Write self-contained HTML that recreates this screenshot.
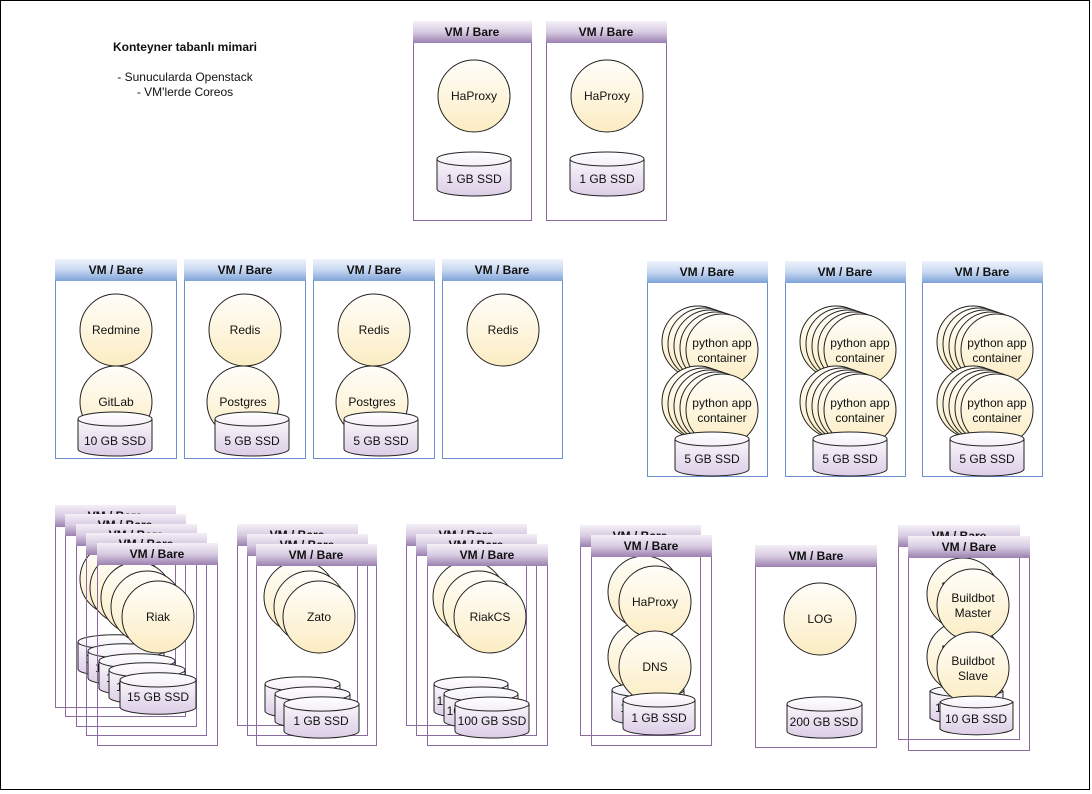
<!DOCTYPE html>
<html><head><meta charset="utf-8"><style>
body{margin:0;background:#fff}
svg{display:block}
text{font-family:"Liberation Sans",Arial,sans-serif;font-size:12px;fill:#111;text-anchor:middle}
.h{font-weight:bold}
.bp{fill:none;stroke:#8a6aa0;stroke-width:1}
.bb{fill:none;stroke:#6a8fca;stroke-width:1}
.c{fill:url(#cg);stroke:#222;stroke-width:1}
.cy{fill:url(#yg);stroke:#222;stroke-width:1}
.ln{fill:none;stroke:#222;stroke-width:1}
</style></head><body>
<svg width="1092" height="794" xmlns="http://www.w3.org/2000/svg">
<defs>
<linearGradient id="pg" x1="0" y1="0" x2="0" y2="1"><stop offset="0" stop-color="#f4f0f7"/><stop offset="0.5" stop-color="#d8cbe2"/><stop offset="1" stop-color="#9b80b0"/></linearGradient>
<linearGradient id="bg" x1="0" y1="0" x2="0" y2="1"><stop offset="0" stop-color="#eef3fb"/><stop offset="0.5" stop-color="#c7d8f1"/><stop offset="1" stop-color="#7ea3d8"/></linearGradient>
<linearGradient id="cg" x1="0" y1="0" x2="0" y2="1"><stop offset="0" stop-color="#fffefa"/><stop offset="1" stop-color="#fbecc2"/></linearGradient>
<linearGradient id="yg" x1="0" y1="0" x2="0" y2="1"><stop offset="0" stop-color="#ffffff"/><stop offset="1" stop-color="#dccde6"/></linearGradient>
</defs>
<rect x="0.5" y="0.5" width="1089" height="789" fill="#fff" stroke="#000"/>

<text class="h" x="185" y="51">Konteyner tabanlı mimari</text>
<text x="185" y="81">- Sunucularda Openstack</text>
<text x="185" y="96">- VM'lerde Coreos</text>

<!-- top boxes -->
<g transform="translate(413,21)"><rect class="bp" x="0.5" y="0.5" width="118" height="199"/><rect x="0" y="0" width="119" height="22" fill="url(#pg)"/><text class="h" x="59" y="15">VM / Bare</text>
<circle class="c" cx="61" cy="75" r="36"/><text x="61" y="79">HaProxy</text>
<g transform="translate(24,131)"><path class="cy" d="M0,7A37,7 0 0 1 74,7V37A37,7 0 0 1 0,37Z"/><path class="ln" d="M0,7A37,7 0 0 0 74,7"/><text x="37" y="31">1 GB SSD</text></g></g>
<g transform="translate(546,21)"><rect class="bp" x="0.5" y="0.5" width="120" height="199"/><rect x="0" y="0" width="121" height="22" fill="url(#pg)"/><text class="h" x="60" y="15">VM / Bare</text>
<circle class="c" cx="61" cy="75" r="36"/><text x="61" y="79">HaProxy</text>
<g transform="translate(24,131)"><path class="cy" d="M0,7A37,7 0 0 1 74,7V37A37,7 0 0 1 0,37Z"/><path class="ln" d="M0,7A37,7 0 0 0 74,7"/><text x="37" y="31">1 GB SSD</text></g></g>

<!-- row2 blue -->
<g transform="translate(55,259)"><rect class="bb" x="0.5" y="0.5" width="121" height="199"/><rect x="0" y="0" width="122" height="22" fill="url(#bg)"/><text class="h" x="61" y="15">VM / Bare</text>
<circle class="c" cx="61" cy="71" r="36"/><text x="61" y="75">Redmine</text>
<circle class="c" cx="61" cy="143" r="36"/><text x="61" y="147">GitLab</text>
<g transform="translate(23,153)"><path class="cy" d="M0,7A37,7 0 0 1 74,7V37A37,7 0 0 1 0,37Z"/><path class="ln" d="M0,7A37,7 0 0 0 74,7"/><text x="37" y="33">10 GB SSD</text></g></g>
<g transform="translate(184,259)"><rect class="bb" x="0.5" y="0.5" width="121" height="199"/><rect x="0" y="0" width="122" height="22" fill="url(#bg)"/><text class="h" x="61" y="15">VM / Bare</text>
<circle class="c" cx="61" cy="71" r="36"/><text x="61" y="75">Redis</text>
<circle class="c" cx="59" cy="143" r="36"/><text x="59" y="147">Postgres</text>
<g transform="translate(31,153)"><path class="cy" d="M0,7A37,7 0 0 1 74,7V37A37,7 0 0 1 0,37Z"/><path class="ln" d="M0,7A37,7 0 0 0 74,7"/><text x="37" y="33">5 GB SSD</text></g></g>
<g transform="translate(313,259)"><rect class="bb" x="0.5" y="0.5" width="121" height="199"/><rect x="0" y="0" width="122" height="22" fill="url(#bg)"/><text class="h" x="61" y="15">VM / Bare</text>
<circle class="c" cx="61" cy="71" r="36"/><text x="61" y="75">Redis</text>
<circle class="c" cx="59" cy="143" r="36"/><text x="59" y="147">Postgres</text>
<g transform="translate(31,153)"><path class="cy" d="M0,7A37,7 0 0 1 74,7V37A37,7 0 0 1 0,37Z"/><path class="ln" d="M0,7A37,7 0 0 0 74,7"/><text x="37" y="33">5 GB SSD</text></g></g>
<g transform="translate(442,259)"><rect class="bb" x="0.5" y="0.5" width="120" height="199"/><rect x="0" y="0" width="121" height="22" fill="url(#bg)"/><text class="h" x="60" y="15">VM / Bare</text>
<circle class="c" cx="61" cy="71" r="36"/><text x="61" y="75">Redis</text></g>

<!-- python boxes -->
<g transform="translate(647,261)"><rect class="bb" x="0.5" y="0.5" width="120" height="215"/><rect x="0" y="0" width="121" height="22" fill="url(#bg)"/><text class="h" x="60" y="15">VM / Bare</text>
<circle class="c" cx="51" cy="81" r="36"/><text x="51" y="78">python app</text>
<circle class="c" cx="57" cy="83" r="36"/><text x="57" y="80">python app</text>
<circle class="c" cx="63" cy="85" r="36"/><text x="63" y="82">python app</text>
<circle class="c" cx="69" cy="87" r="36"/><text x="69" y="84">python app</text>
<circle class="c" cx="75" cy="89" r="36"/><text x="75" y="86">python app</text><text x="75" y="101">container</text>
<circle class="c" cx="51" cy="141" r="36"/><text x="51" y="138">python app</text>
<circle class="c" cx="57" cy="143" r="36"/><text x="57" y="140">python app</text>
<circle class="c" cx="63" cy="145" r="36"/><text x="63" y="142">python app</text>
<circle class="c" cx="69" cy="147" r="36"/><text x="69" y="144">python app</text>
<circle class="c" cx="75" cy="149" r="36"/><text x="75" y="146">python app</text><text x="75" y="161">container</text>
<g transform="translate(28,171)"><path class="cy" d="M0,7A37,7 0 0 1 74,7V37A37,7 0 0 1 0,37Z"/><path class="ln" d="M0,7A37,7 0 0 0 74,7"/><text x="37" y="31">5 GB SSD</text></g></g>
<g transform="translate(785,261)"><rect class="bb" x="0.5" y="0.5" width="120" height="215"/><rect x="0" y="0" width="121" height="22" fill="url(#bg)"/><text class="h" x="60" y="15">VM / Bare</text>
<circle class="c" cx="51" cy="81" r="36"/><text x="51" y="78">python app</text>
<circle class="c" cx="57" cy="83" r="36"/><text x="57" y="80">python app</text>
<circle class="c" cx="63" cy="85" r="36"/><text x="63" y="82">python app</text>
<circle class="c" cx="69" cy="87" r="36"/><text x="69" y="84">python app</text>
<circle class="c" cx="75" cy="89" r="36"/><text x="75" y="86">python app</text><text x="75" y="101">container</text>
<circle class="c" cx="51" cy="141" r="36"/><text x="51" y="138">python app</text>
<circle class="c" cx="57" cy="143" r="36"/><text x="57" y="140">python app</text>
<circle class="c" cx="63" cy="145" r="36"/><text x="63" y="142">python app</text>
<circle class="c" cx="69" cy="147" r="36"/><text x="69" y="144">python app</text>
<circle class="c" cx="75" cy="149" r="36"/><text x="75" y="146">python app</text><text x="75" y="161">container</text>
<g transform="translate(28,171)"><path class="cy" d="M0,7A37,7 0 0 1 74,7V37A37,7 0 0 1 0,37Z"/><path class="ln" d="M0,7A37,7 0 0 0 74,7"/><text x="37" y="31">5 GB SSD</text></g></g>
<g transform="translate(922,261)"><rect class="bb" x="0.5" y="0.5" width="120" height="215"/><rect x="0" y="0" width="121" height="22" fill="url(#bg)"/><text class="h" x="60" y="15">VM / Bare</text>
<circle class="c" cx="51" cy="81" r="36"/><text x="51" y="78">python app</text>
<circle class="c" cx="57" cy="83" r="36"/><text x="57" y="80">python app</text>
<circle class="c" cx="63" cy="85" r="36"/><text x="63" y="82">python app</text>
<circle class="c" cx="69" cy="87" r="36"/><text x="69" y="84">python app</text>
<circle class="c" cx="75" cy="89" r="36"/><text x="75" y="86">python app</text><text x="75" y="101">container</text>
<circle class="c" cx="51" cy="141" r="36"/><text x="51" y="138">python app</text>
<circle class="c" cx="57" cy="143" r="36"/><text x="57" y="140">python app</text>
<circle class="c" cx="63" cy="145" r="36"/><text x="63" y="142">python app</text>
<circle class="c" cx="69" cy="147" r="36"/><text x="69" y="144">python app</text>
<circle class="c" cx="75" cy="149" r="36"/><text x="75" y="146">python app</text><text x="75" y="161">container</text>
<g transform="translate(28,171)"><path class="cy" d="M0,7A37,7 0 0 1 74,7V37A37,7 0 0 1 0,37Z"/><path class="ln" d="M0,7A37,7 0 0 0 74,7"/><text x="37" y="31">5 GB SSD</text></g></g>

<!-- Riak x5 -->
<g transform="translate(55,505)"><rect class="bp" x="0.5" y="0.5" width="120" height="202"/><rect x="0" y="0" width="121" height="22" fill="url(#pg)"/><text class="h" x="60" y="15">VM / Bare</text><circle class="c" cx="61" cy="74" r="36"/><text x="61" y="78">Riak</text><g transform="translate(23,130)"><path class="cy" d="M0,7A37,7 0 0 1 76,7V34A37,7 0 0 1 0,34Z"/><path class="ln" d="M0,7A38,7 0 0 0 76,7"/><text x="38" y="28">15 GB SSD</text></g></g>
<g transform="translate(65,514)"><rect class="bp" x="0.5" y="0.5" width="120" height="202"/><rect x="0" y="0" width="121" height="22" fill="url(#pg)"/><text class="h" x="60" y="15">VM / Bare</text><circle class="c" cx="61" cy="74" r="36"/><text x="61" y="78">Riak</text><g transform="translate(23,130)"><path class="cy" d="M0,7A37,7 0 0 1 76,7V34A37,7 0 0 1 0,34Z"/><path class="ln" d="M0,7A38,7 0 0 0 76,7"/><text x="38" y="28">15 GB SSD</text></g></g>
<g transform="translate(76,524)"><rect class="bp" x="0.5" y="0.5" width="120" height="202"/><rect x="0" y="0" width="121" height="22" fill="url(#pg)"/><text class="h" x="60" y="15">VM / Bare</text><circle class="c" cx="61" cy="74" r="36"/><text x="61" y="78">Riak</text><g transform="translate(23,130)"><path class="cy" d="M0,7A37,7 0 0 1 76,7V34A37,7 0 0 1 0,34Z"/><path class="ln" d="M0,7A38,7 0 0 0 76,7"/><text x="38" y="28">15 GB SSD</text></g></g>
<g transform="translate(86,533)"><rect class="bp" x="0.5" y="0.5" width="120" height="202"/><rect x="0" y="0" width="121" height="22" fill="url(#pg)"/><text class="h" x="60" y="15">VM / Bare</text><circle class="c" cx="61" cy="74" r="36"/><text x="61" y="78">Riak</text><g transform="translate(23,130)"><path class="cy" d="M0,7A37,7 0 0 1 76,7V34A37,7 0 0 1 0,34Z"/><path class="ln" d="M0,7A38,7 0 0 0 76,7"/><text x="38" y="28">15 GB SSD</text></g></g>
<g transform="translate(97,543)"><rect class="bp" x="0.5" y="0.5" width="120" height="202"/><rect x="0" y="0" width="121" height="22" fill="url(#pg)"/><text class="h" x="60" y="15">VM / Bare</text><circle class="c" cx="61" cy="74" r="36"/><text x="61" y="78">Riak</text><g transform="translate(23,130)"><path class="cy" d="M0,7A37,7 0 0 1 76,7V34A37,7 0 0 1 0,34Z"/><path class="ln" d="M0,7A38,7 0 0 0 76,7"/><text x="38" y="28">15 GB SSD</text></g></g>

<!-- Zato x3 -->
<g transform="translate(237,524)"><rect class="bp" x="0.5" y="0.5" width="120" height="201"/><rect x="0" y="0" width="121" height="22" fill="url(#pg)"/><text class="h" x="60" y="15">VM / Bare</text><circle class="c" cx="63" cy="73" r="36"/><text x="63" y="77">Zato</text><g transform="translate(28,153)"><path class="cy" d="M0,7A37,7 0 0 1 75,7V34A37,7 0 0 1 0,34Z"/><path class="ln" d="M0,7A37,7 0 0 0 75,7"/><text x="37" y="28">1 GB SSD</text></g></g>
<g transform="translate(247,534)"><rect class="bp" x="0.5" y="0.5" width="120" height="201"/><rect x="0" y="0" width="121" height="22" fill="url(#pg)"/><text class="h" x="60" y="15">VM / Bare</text><circle class="c" cx="63" cy="73" r="36"/><text x="63" y="77">Zato</text><g transform="translate(28,153)"><path class="cy" d="M0,7A37,7 0 0 1 75,7V34A37,7 0 0 1 0,34Z"/><path class="ln" d="M0,7A37,7 0 0 0 75,7"/><text x="37" y="28">1 GB SSD</text></g></g>
<g transform="translate(256,544)"><rect class="bp" x="0.5" y="0.5" width="120" height="201"/><rect x="0" y="0" width="121" height="22" fill="url(#pg)"/><text class="h" x="60" y="15">VM / Bare</text><circle class="c" cx="63" cy="73" r="36"/><text x="63" y="77">Zato</text><g transform="translate(28,153)"><path class="cy" d="M0,7A37,7 0 0 1 75,7V34A37,7 0 0 1 0,34Z"/><path class="ln" d="M0,7A37,7 0 0 0 75,7"/><text x="37" y="28">1 GB SSD</text></g></g>

<!-- RiakCS x3 -->
<g transform="translate(406,524)"><rect class="bp" x="0.5" y="0.5" width="120" height="201"/><rect x="0" y="0" width="121" height="22" fill="url(#pg)"/><text class="h" x="60" y="15">VM / Bare</text><circle class="c" cx="63" cy="73" r="36"/><text x="63" y="77">RiakCS</text><g transform="translate(28,153)"><path class="cy" d="M0,7A37,7 0 0 1 74,7V34A37,7 0 0 1 0,34Z"/><path class="ln" d="M0,7A37,7 0 0 0 74,7"/><text x="37" y="28">100 GB SSD</text></g></g>
<g transform="translate(416,534)"><rect class="bp" x="0.5" y="0.5" width="120" height="201"/><rect x="0" y="0" width="121" height="22" fill="url(#pg)"/><text class="h" x="60" y="15">VM / Bare</text><circle class="c" cx="63" cy="73" r="36"/><text x="63" y="77">RiakCS</text><g transform="translate(28,153)"><path class="cy" d="M0,7A37,7 0 0 1 74,7V34A37,7 0 0 1 0,34Z"/><path class="ln" d="M0,7A37,7 0 0 0 74,7"/><text x="37" y="28">100 GB SSD</text></g></g>
<g transform="translate(427,544)"><rect class="bp" x="0.5" y="0.5" width="120" height="201"/><rect x="0" y="0" width="121" height="22" fill="url(#pg)"/><text class="h" x="60" y="15">VM / Bare</text><circle class="c" cx="63" cy="73" r="36"/><text x="63" y="77">RiakCS</text><g transform="translate(28,153)"><path class="cy" d="M0,7A37,7 0 0 1 74,7V34A37,7 0 0 1 0,34Z"/><path class="ln" d="M0,7A37,7 0 0 0 74,7"/><text x="37" y="28">100 GB SSD</text></g></g>

<!-- DNS x2 -->
<g transform="translate(580,525)"><rect class="bp" x="0.5" y="0.5" width="120" height="210"/><rect x="0" y="0" width="121" height="22" fill="url(#pg)"/><text class="h" x="60" y="15">VM / Bare</text><circle class="c" cx="64" cy="67" r="36"/><text x="64" y="71">HaProxy</text><circle class="c" cx="64" cy="132" r="36"/><text x="64" y="136">DNS</text><g transform="translate(32,158)"><path class="cy" d="M0,7A36,7 0 0 1 72,7V35A36,7 0 0 1 0,35Z"/><path class="ln" d="M0,7A36,7 0 0 0 72,7"/><text x="36" y="29">1 GB SSD</text></g></g>
<g transform="translate(591,535)"><rect class="bp" x="0.5" y="0.5" width="120" height="210"/><rect x="0" y="0" width="121" height="22" fill="url(#pg)"/><text class="h" x="60" y="15">VM / Bare</text><circle class="c" cx="64" cy="67" r="36"/><text x="64" y="71">HaProxy</text><circle class="c" cx="64" cy="132" r="36"/><text x="64" y="136">DNS</text><g transform="translate(32,158)"><path class="cy" d="M0,7A36,7 0 0 1 72,7V35A36,7 0 0 1 0,35Z"/><path class="ln" d="M0,7A36,7 0 0 0 72,7"/><text x="36" y="29">1 GB SSD</text></g></g>

<!-- LOG -->
<g transform="translate(755,545)"><rect class="bp" x="0.5" y="0.5" width="121" height="202"/><rect x="0" y="0" width="122" height="22" fill="url(#pg)"/><text class="h" x="61" y="15">VM / Bare</text><circle class="c" cx="65" cy="74" r="36"/><text x="65" y="78">LOG</text><g transform="translate(32,152)"><path class="cy" d="M0,7A37,7 0 0 1 75,7V34A37,7 0 0 1 0,34Z"/><path class="ln" d="M0,7A37,7 0 0 0 75,7"/><text x="37" y="29">200 GB SSD</text></g></g>

<!-- Buildbot x2 -->
<g transform="translate(898,525)"><rect class="bp" x="0.5" y="0.5" width="121" height="214"/><rect x="0" y="0" width="122" height="22" fill="url(#pg)"/><text class="h" x="61" y="15">VM / Bare</text><circle class="c" cx="65" cy="69" r="36"/><text x="65" y="66">Buildbot</text><text x="65" y="81">Master</text><circle class="c" cx="65" cy="132" r="36"/><text x="65" y="129">Buildbot</text><text x="65" y="144">Slave</text><g transform="translate(32,159)"><path class="cy" d="M0,7A37,7 0 0 1 73,7V34A37,7 0 0 1 0,34Z"/><path class="ln" d="M0,7A37,7 0 0 0 73,7"/><text x="36" y="28">10 GB SSD</text></g></g>
<g transform="translate(908,536)"><rect class="bp" x="0.5" y="0.5" width="121" height="214"/><rect x="0" y="0" width="122" height="22" fill="url(#pg)"/><text class="h" x="61" y="15">VM / Bare</text><circle class="c" cx="65" cy="69" r="36"/><text x="65" y="66">Buildbot</text><text x="65" y="81">Master</text><circle class="c" cx="65" cy="132" r="36"/><text x="65" y="129">Buildbot</text><text x="65" y="144">Slave</text><g transform="translate(32,159)"><path class="cy" d="M0,7A37,7 0 0 1 73,7V34A37,7 0 0 1 0,34Z"/><path class="ln" d="M0,7A37,7 0 0 0 73,7"/><text x="36" y="28">10 GB SSD</text></g></g>
</svg>
</body></html>
